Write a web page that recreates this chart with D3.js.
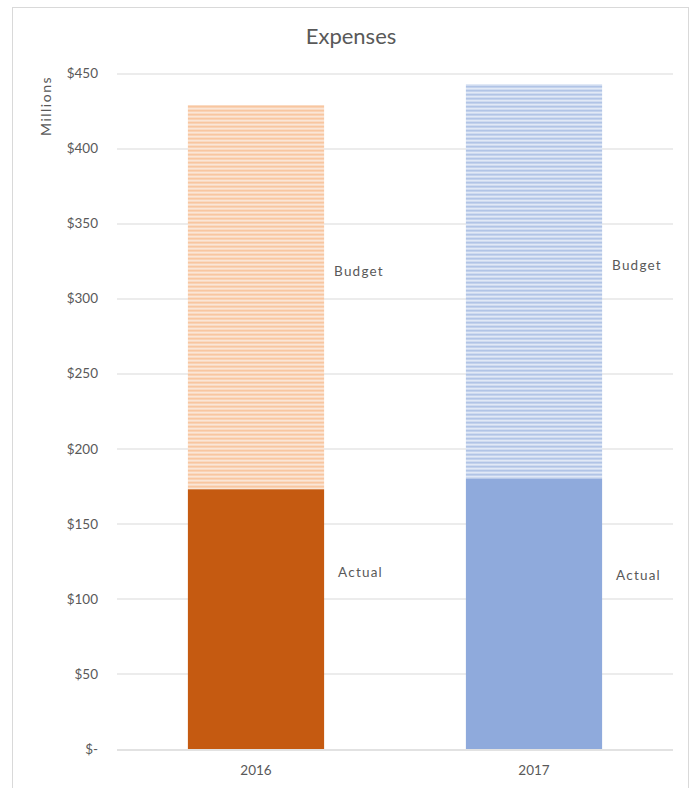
<!DOCTYPE html>
<html>
<head>
<meta charset="utf-8">
<script src="https://cdn.jsdelivr.net/npm/d3@7"></script>
<style>
  body { margin: 0; background: #fff; }
  text { font-family: Lato, "Open Sans", sans-serif; fill: #595959; }
</style>
</head>
<body>
<div id="wrapper"></div>
<script>
// chart data
const years = ["2016", "2017"]
const actual = [173, 180]
const budget = [256, 263]   // stacked on top of actual
const yTicks = [0, 50, 100, 150, 200, 250, 300, 350, 400, 450]
// where the inline labels sit, in $ millions
const budgetLabelAt = [318, 322]
const actualLabelAt = [118, 116]

const colors = {
  "2016": { solid: "#c55a11", stripe: "#f8c6a0", gap: "#fbeee4" },
  "2017": { solid: "#8faadc", stripe: "#b1c4e6", gap: "#edf2fa" },
}

let dimensions = {
  width: 695,
  height: 788,
  margins: { top: 73.5, right: 22, bottom: 39, left: 117 },
}
dimensions.boundedWidth = dimensions.width - dimensions.margins.left - dimensions.margins.right
dimensions.boundedHeight = dimensions.height - dimensions.margins.top - dimensions.margins.bottom

const wrapper = d3.select("#wrapper")
  .append("svg")
  .attr("width", dimensions.width)
  .attr("height", dimensions.height)

// stripe patterns for the budget part
const defs = wrapper.append("defs")
years.forEach(year => {
  const p = defs.append("pattern")
    .attr("id", "stripe-" + year)
    .attr("patternUnits", "userSpaceOnUse")
    .attr("width", 8)
    .attr("height", 4)
  p.append("rect").attr("width", 8).attr("height", 4).attr("fill", colors[year].gap)
  p.append("rect").attr("width", 8).attr("height", 2.4).attr("fill", colors[year].stripe)
})

// chart area border
wrapper.append("rect")
  .attr("x", 12.5)
  .attr("y", 7.5)
  .attr("width", 676)
  .attr("height", 800)
  .attr("fill", "none")
  .attr("stroke", "#d9d9d9")

const bounds = wrapper.append("g")
  .attr("transform", `translate(${dimensions.margins.left}, ${dimensions.margins.top})`)

// scales
const xScale = d3.scaleBand()
  .domain(years)
  .range([0, dimensions.boundedWidth])
  .paddingInner(0.51)
  .paddingOuter(0.255)

const yScale = d3.scaleLinear()
  .domain([0, 450])
  .range([dimensions.boundedHeight, 0])

// gridlines
bounds.append("g")
  .selectAll("line")
  .data(yTicks)
  .join("line")
  .attr("x1", 0)
  .attr("x2", dimensions.boundedWidth)
  .attr("y1", d => Math.round(yScale(d)) + 0.5)
  .attr("y2", d => Math.round(yScale(d)) + 0.5)
  .attr("stroke", "#d9d9d9")
  .attr("stroke-width", d => d === 0 ? 1.5 : 1)

// y tick labels
const formatMoney = d => d === 0 ? "$-" : "$" + d
bounds.append("g")
  .selectAll("text")
  .data(yTicks)
  .join("text")
  .attr("x", -19)
  .attr("y", d => yScale(d))
  .attr("dy", "0.35em")
  .attr("text-anchor", "end")
  .style("font-size", "13.5px")
  .text(formatMoney)

// bars
const barGroups = bounds.selectAll(".bar")
  .data(years.map((year, i) => ({ year, actual: actual[i], budget: budget[i], i })))
  .join("g")
  .attr("class", "bar")

barGroups.append("rect")
  .attr("x", d => xScale(d.year))
  .attr("width", xScale.bandwidth())
  .attr("y", d => yScale(d.actual + d.budget))
  .attr("height", d => yScale(d.actual) - yScale(d.actual + d.budget))
  .attr("fill", d => `url(#stripe-${d.year})`)

barGroups.append("rect")
  .attr("x", d => xScale(d.year))
  .attr("width", xScale.bandwidth())
  .attr("y", d => yScale(d.actual))
  .attr("height", d => yScale(0) - yScale(d.actual))
  .attr("fill", d => colors[d.year].solid)

// inline labels to the right of the bars
barGroups.append("text")
  .attr("x", d => xScale(d.year) + xScale.bandwidth() + 10)
  .attr("y", d => yScale(budgetLabelAt[d.i]))
  .attr("dy", "0.35em")
  .style("font-size", "13.5px")
  .style("letter-spacing", "1.2px")
  .text("Budget")

barGroups.append("text")
  .attr("x", d => xScale(d.year) + xScale.bandwidth() + 14)
  .attr("y", d => yScale(actualLabelAt[d.i]))
  .attr("dy", "0.35em")
  .style("font-size", "13.5px")
  .style("letter-spacing", "1.2px")
  .text("Actual")

// x axis labels
bounds.append("g")
  .selectAll("text")
  .data(years)
  .join("text")
  .attr("x", d => xScale(d) + xScale.bandwidth() / 2)
  .attr("y", dimensions.boundedHeight + 21)
  .attr("dy", "0.35em")
  .attr("text-anchor", "middle")
  .style("font-size", "13.5px")
  .text(d => d)

// title
wrapper.append("text")
  .attr("x", 351)
  .attr("y", 44)
  .attr("text-anchor", "middle")
  .style("font-size", "22px")
  .text("Expenses")

// y axis title
wrapper.append("text")
  .attr("transform", "translate(51, 106) rotate(-90)")
  .attr("text-anchor", "middle")
  .style("font-size", "14px")
  .style("letter-spacing", "1.5px")
  .text("Millions")
</script>
</body>
</html>
